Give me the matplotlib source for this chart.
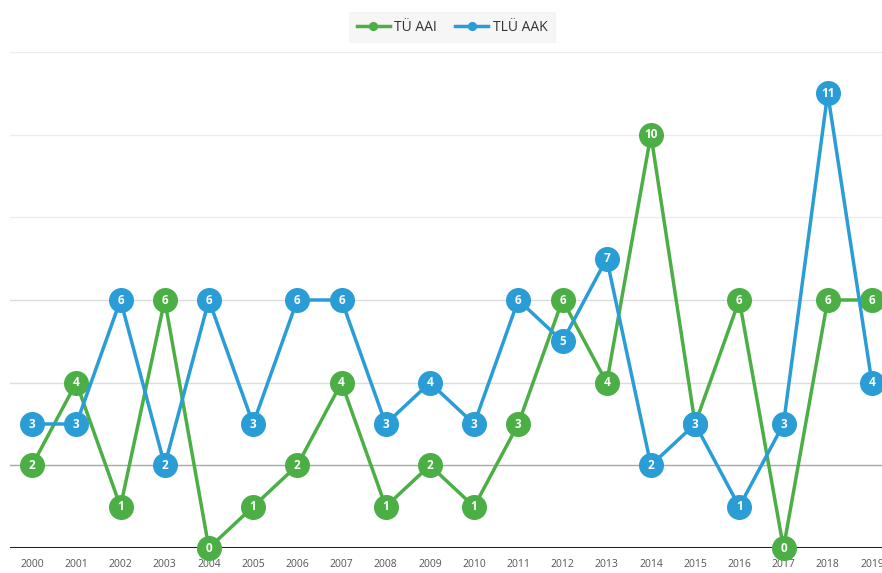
import matplotlib.pyplot as plt
import numpy as np

years = [str(y) for y in range(2000, 2020)]
tu_aai = [2, 4, 1, 6, 0, 1, 2, 4, 1, 2, 1, 3, 6, 4, 10, 3, 6, 0, 6, 6]
tlu_aak = [3, 3, 6, 2, 6, 3, 6, 6, 3, 4, 3, 6, 5, 7, 2, 3, 1, 3, 11, 4]

green = '#4caf46'
blue = '#2a9dd7'

plt.rcParams['font.family'] = ['Open Sans', 'DejaVu Sans']

fig = plt.figure(figsize=(8.82, 5.73), dpi=100)
# axes runs a bit past the right edge, like the original
ax = fig.add_axes([10 / 882, 25 / 573, 884 / 882, 496 / 573])
x = np.arange(len(years))

# gridlines
grid_colors = {2: '#a8a8a8', 4: '#dcdcdc', 6: '#dcdcdc', 8: '#ececec', 10: '#ececec', 12: '#ececec'}
for yv, c in grid_colors.items():
    ax.axhline(yv, color=c, lw=1, zorder=0)
ax.axhline(0, color='#222222', lw=2.2, zorder=1)

for vals, col, lab, z in [(tu_aai, green, 'TÜ AAI', 3), (tlu_aak, blue, 'TLÜ AAK', 5)]:
    ax.plot(x, vals, color=col, lw=2.5, marker='o', markersize=17,
            markeredgecolor=col, label=lab, zorder=z, clip_on=False)
    for xi, v in zip(x, vals):
        ax.text(xi, v, str(v), ha='center', va='center', color='white',
                fontsize=8.5, fontweight='bold', zorder=z + 1, clip_on=False)

ax.set_xlim(-0.5, len(years) - 0.5)
ax.set_ylim(0, 12)
ax.set_xticks(x)
ax.set_xticklabels(years, fontsize=7.5, color='#555555')
ax.set_yticks([])
ax.tick_params(axis='x', length=0, pad=8)
for s in ax.spines.values():
    s.set_visible(False)

leg = fig.legend(loc='upper center', bbox_to_anchor=(452 / 882, 1 - 5 / 573),
                 ncol=2, frameon=True, fontsize=10, handlelength=2.4,
                 handletextpad=0.3, columnspacing=1.3, markerscale=0.33,
                 borderpad=0.55, labelcolor='#333333')
leg.get_frame().set_facecolor('#f4f4f4')
leg.get_frame().set_edgecolor('#f4f4f4')
leg.get_frame().set_boxstyle('square', pad=0)

fig.savefig('out.png', dpi=100)
